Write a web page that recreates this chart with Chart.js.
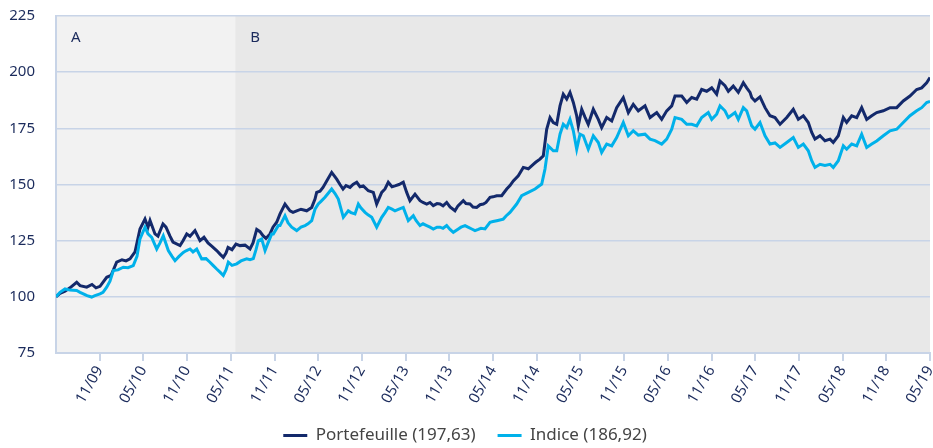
<!DOCTYPE html>
<html><head><meta charset="utf-8">
<script src="https://cdn.jsdelivr.net/npm/chart.js@4.4.1/dist/chart.umd.min.js"></script>
<style>html,body{margin:0;padding:0;background:#fff}#wrap{width:933px;height:448px;position:relative}</style>
</head><body><div id="wrap"><canvas id="c"></canvas></div>
<script>
// Time axis: months elapsed since 1 June 2009
const portMonths = [0,0.55,1.24,1.92,2.84,3.30,4.22,4.94,5.49,6.04,
6.96,7.55,8.33,9.06,9.61,10.16,10.85,11.53,12.22,12.63,
12.91,13.59,14.00,14.69,15.10,15.65,16.06,17.03,17.44,17.95,
18.40,19.08,19.77,20.32,20.87,21.42,22.06,22.52,22.97,23.34,
23.62,24.16,24.71,25.26,25.95,26.64,27.05,27.56,28.01,28.42,
28.83,29.38,29.79,30.30,30.76,31.44,32.13,32.54,33.05,33.64,
34.42,35.11,35.56,35.79,36.25,36.66,37.17,37.85,38.54,38.99,
39.41,39.82,40.37,40.78,41.29,41.74,42.19,42.88,43.57,44.03,
44.72,45.17,45.62,46.13,46.54,47.09,47.68,48.15,48.60,49.29,
49.98,50.39,50.90,51.35,51.80,52.31,52.72,53.14,53.64,54.10,
54.78,55.19,55.92,56.29,56.84,57.25,57.76,58.22,58.67,59.04,
59.59,60.00,60.51,61.19,61.88,62.33,62.79,63.47,64.16,64.85,
65.53,65.90,66.45,66.91,67.37,67.83,68.28,68.75,69.20,69.65,
70.12,70.57,71.03,71.49,71.71,72.18,72.63,73.08,73.77,74.46,
74.92,75.61,76.30,76.98,77.89,78.58,79.26,79.95,80.87,81.56,
82.48,83.16,83.85,84.54,84.99,85.91,86.60,87.28,87.97,88.65,
89.34,90.03,90.71,91.17,91.85,92.31,92.99,93.68,94.37,94.83,
95.29,95.52,95.97,96.66,97.35,98.03,98.72,99.41,100.33,101.23,
101.92,102.61,103.29,103.76,104.21,104.90,105.58,106.27,106.72,107.41,
108.10,108.56,109.25,109.94,110.62,111.31,112.00,112.68,113.59,114.51,
115.43,116.33,117.25,118.17,118.86,119.54,120];
const portValues = [100,101.5,102.5,104,106.5,105,104.3,105.5,104,104.7,
108.7,109.5,115.4,116.5,116,116.9,120,130.2,134.6,131,
134,128,127,132.4,131,127,124.4,122.8,125,128,
127,129.5,125,126.5,124,122.5,120.6,119,117.6,119.5,
122,121,123.5,122.8,123,121.3,124,130,129,127.2,
126,128,131,133.2,136.9,141.3,138.3,137.6,138.3,139,
138.3,139.8,143.5,146.5,147,148.7,151.6,155.4,152.4,150,
148,149.5,148.7,150,151,149,149.4,147.2,146.5,141.3,
146.5,148,151,149,149.4,150,151,146.5,142.8,145.7,
142.8,142,141.3,142,140.6,141.5,141.3,140.5,142,140,
138.3,140.5,142.8,141.5,141.3,140,139.8,141,141.3,142,
144.3,144.5,145,145,148,149.5,151.6,153.9,157.6,157,
159,160,161.3,162.8,174.6,179.8,177.6,176.8,185,190.2,
188,191,186.5,180.6,176.1,183.5,180,176.8,183.5,179,
175.3,179.8,178.3,184.2,188.7,182,185.7,182.8,185,179.8,
182,179,182.8,185,189.4,189.4,186.5,188.7,188,192.3,
191.5,193,190.2,196,194,191.5,193.8,191,195.3,193,
191,188.7,187.2,189,184.2,180.6,179.8,176.8,179.8,183.5,
179,180.6,177.6,173.2,170.2,171.7,169.5,170.2,168.7,171.7,
179.8,177.6,180.6,179.8,184.2,179,180.6,182,182.8,184.2,
184.2,187.2,189.4,192.3,193,195.3,197.63];
const idxMonths = [0,0.55,1.24,1.92,2.84,3.30,3.75,4.26,4.90,5.35,
6.04,6.45,6.96,7.41,7.87,8.51,9.24,9.89,10.61,11.12,
11.53,12.22,12.63,13.14,13.83,14.28,14.73,15.42,15.93,16.34,
16.89,17.48,17.85,18.40,18.81,19.32,20.00,20.60,21.14,21.56,
22.06,22.52,22.97,23.34,23.66,24.16,24.81,25.40,26.18,26.64,
27.09,27.46,27.78,28.24,28.70,29.11,29.62,29.84,30.52,30.76,
31.44,31.85,32.36,33.05,33.64,34.19,34.60,35.11,35.56,36.01,
36.38,36.93,37.35,37.85,38.31,38.76,39.45,40.13,40.50,41.05,
41.51,41.88,42.43,42.84,43.35,44.03,44.72,45.17,45.62,46.13,
46.54,47.09,47.68,48.37,49.06,49.43,49.98,50.39,50.90,51.35,
51.80,52.31,52.72,53.14,53.64,54.10,54.55,55.24,55.61,56.16,
56.57,57.08,57.53,57.98,58.35,58.90,59.59,60.00,60.51,61.41,
61.79,62.33,63.25,63.94,64.85,65.77,66.18,66.69,67.14,67.59,
68.28,68.75,69.20,69.65,70.12,70.57,71.03,71.49,71.95,72.40,
73.08,73.77,74.46,74.92,75.61,76.30,76.98,77.89,78.58,79.26,
79.95,80.87,81.56,82.24,83.16,83.85,84.54,84.99,85.91,86.60,
87.28,87.97,88.65,89.56,90.03,90.71,91.17,91.85,92.31,93.23,
93.68,94.37,94.83,95.52,95.97,96.66,97.35,98.03,98.72,99.41,
100.33,101.23,101.92,102.61,103.29,103.76,104.21,104.90,105.58,106.27,
106.72,107.41,108.10,108.56,109.25,109.94,110.62,111.31,112.00,112.68,
113.59,114.51,115.43,116.33,117.25,118.17,118.86,119.54,120];
const idxValues = [100,102,103.5,103,102.8,102,101.3,100.5,99.9,100.5,
101.3,102,104.3,107,111.7,112,113.2,113,113.9,118,
125.8,131,128,126.5,121.3,124,127.2,120.6,118,116.1,
118,119.8,120.5,121.3,120,121.3,116.9,117,115.4,114,
112.4,111,109.5,112,115.4,114,114.7,116,116.9,116.5,
117,121,125,125.8,120.6,124,128,128,131.7,131.7,
136.1,133,131,129.5,131,131.7,132.5,133.9,139,141.3,
142.5,144.3,146,148,146,143.5,135.4,138.3,137.5,136.9,
141.3,139.5,137.6,136.5,135.4,131,135.4,137.5,139.8,139,
138.3,139,139.8,133.9,136.1,134,131.7,132.5,131.7,131,
130.2,131,131,130.5,131.7,130,128.7,130.2,131,131.7,
131,130.2,129.5,130,130.5,130.2,133.2,133.5,133.9,134.6,
136,137.6,141.3,145,146.5,148,149,150.2,156.9,167.2,
165,165,172.4,176.8,175.3,179,173.9,165.7,172.4,171.7,
165.7,171.7,168.7,164.3,168,167.2,170.9,177.6,171.7,173.9,
172,172.4,170.2,169.5,168,170.2,174.6,179.8,179,176.8,
176.8,176.1,179.8,182,179,181.3,185,182.8,179.8,182,
179,184.2,182.8,176.1,174.6,177.6,171.7,168,168.5,166.5,
168.7,170.9,166.5,168,165,160.6,157.6,159,158.5,159,
157.6,160.6,167.2,165.7,168,167.2,172.4,166.5,168,169.4,
171.7,173.9,174.6,177.6,180.6,182.8,184.2,186.5,186.92];
const tickMonths = [6,12,18,24,30,36,42,48,54,60,66,72,78,84,90,96,102,108,114,120];
const tickLabels = ['11/09','05/10','11/10','05/11','11/11','05/12','11/12','05/13','11/13','05/14',
'11/14','05/15','11/15','05/16','11/16','05/17','11/17','05/18','11/18','05/19'];
const seriesNames = ['Portefeuille (197,63)','Indice (186,92)'];
const regionLabels = ['A','B'];
const regionStarts = [0, 24.6];

const NAVY = '#13296b', CYAN = '#00b1ea', TXT = '#1b2b5c', GRID = '#c8d4e7';
const regionFill = ['#f2f2f2','#e8e8e8'];
const FONT = '"Noto Sans", "Open Sans", sans-serif';

const regionsPlugin = {
  id: 'regions',
  beforeDraw(chart) {
    const {ctx, chartArea: a, scales: {x}} = chart;
    ctx.save();
    for (let i = 0; i < regionStarts.length; i++) {
      const x0 = x.getPixelForValue(regionStarts[i]);
      const x1 = i + 1 < regionStarts.length ? x.getPixelForValue(regionStarts[i + 1]) : a.right;
      ctx.fillStyle = regionFill[i];
      ctx.fillRect(x0, a.top, x1 - x0, a.bottom - a.top);
    }
    ctx.fillStyle = TXT;
    ctx.font = '15px ' + FONT;
    ctx.textBaseline = 'middle';
    ctx.textAlign = 'left';
    for (let i = 0; i < regionStarts.length; i++) {
      const x0 = x.getPixelForValue(regionStarts[i]);
      ctx.fillText(regionLabels[i], x0 + 15, a.top + 22);
    }
    ctx.restore();
  }
};

new Chart(document.getElementById('c'), {
  type: 'line',
  data: {
    datasets: [
      { label: seriesNames[0], data: portMonths.map((m, i) => ({x: m, y: portValues[i]})),
        borderColor: NAVY, backgroundColor: NAVY, borderWidth: 3, pointRadius: 0, tension: 0, order: 1 },
      { label: seriesNames[1], data: idxMonths.map((m, i) => ({x: m, y: idxValues[i]})),
        borderColor: CYAN, backgroundColor: CYAN, borderWidth: 3, pointRadius: 0, tension: 0, order: 0 }
    ]
  },
  options: {
    responsive: true, maintainAspectRatio: false, animation: false, devicePixelRatio: 1,
    layout: { padding: { left: 0, right: 3, top: 16, bottom: -6 } },
    plugins: {
      tooltip: { enabled: false },
      legend: {
        position: 'bottom',
        labels: {
          boxWidth: 24, boxHeight: 3, color: '#444', font: { family: FONT, size: 17 }, padding: 22,
          sort: (a, b) => a.datasetIndex - b.datasetIndex,
          generateLabels: (chart) => {
            const items = Chart.defaults.plugins.legend.labels.generateLabels(chart);
            items.forEach(it => { it.lineWidth = 0; it.fillStyle = it.strokeStyle; });
            return items;
          }
        }
      }
    },
    scales: {
      x: {
        type: 'linear', min: 0, max: 120,
        afterBuildTicks: (s) => { s.ticks = tickMonths.map(v => ({ value: v })); },
        afterFit: (s) => { s.height = 52; s.paddingLeft = 0; s.paddingRight = 0; },
        ticks: {
          autoSkip: false, minRotation: 60, maxRotation: 60, color: TXT,
          font: { family: FONT, size: 15 }, padding: 2,
          callback: (v, i) => tickLabels[i]
        },
        grid: { drawOnChartArea: false, tickLength: 8, color: GRID, lineWidth: 2 },
        border: { color: GRID, width: 2 }
      },
      y: {
        min: 75, max: 225,
        afterFit: (s) => { s.width = 56; s.paddingTop = 0; s.paddingBottom = 0; },
        ticks: { stepSize: 25, color: TXT, font: { family: FONT, size: 15 }, padding: 21 },
        grid: { color: GRID, lineWidth: 1.5, drawTicks: false },
        border: { color: GRID, width: 2 }
      }
    }
  },
  plugins: [regionsPlugin]
});
</script>
</body></html>
